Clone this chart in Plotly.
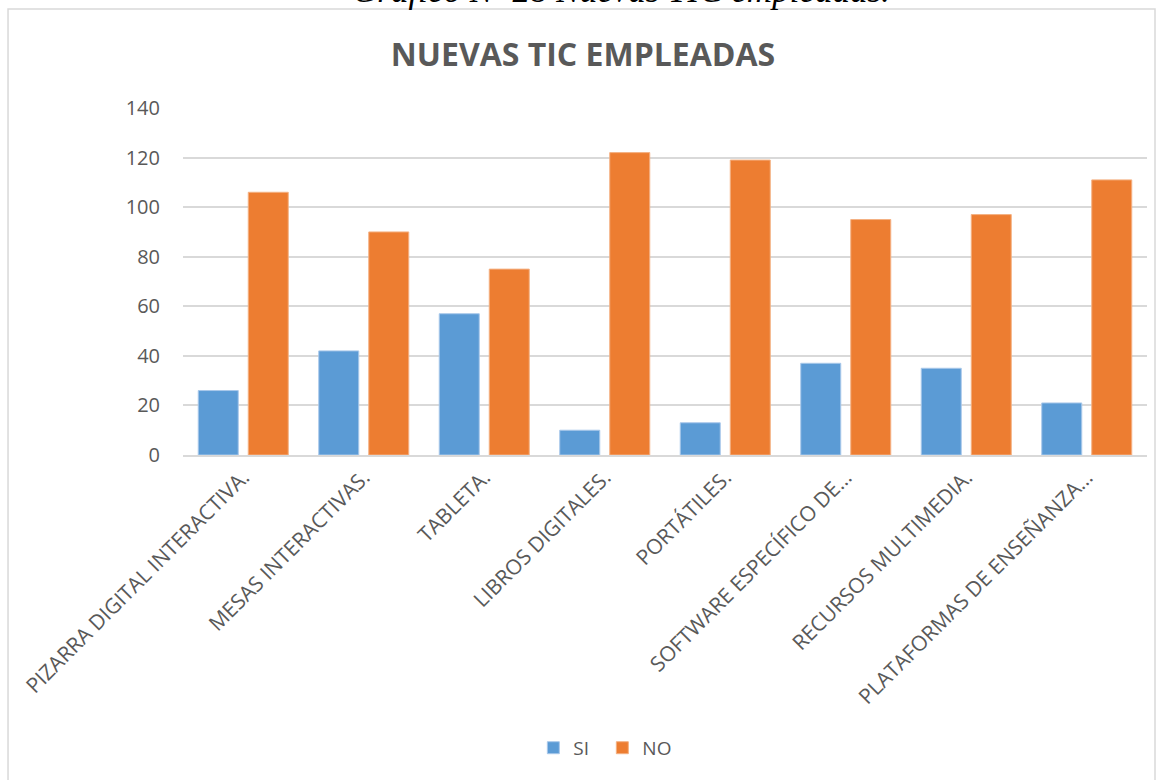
import plotly.graph_objects as go

# Datos del gráfico
categorias = [
    "PIZARRA DIGITAL INTERACTIVA.",
    "MESAS INTERACTIVAS.",
    "TABLETA.",
    "LIBROS DIGITALES.",
    "PORTÁTILES.",
    "SOFTWARE ESPECÍFICO DE…",
    "RECURSOS MULTIMEDIA.",
    "PLATAFORMAS DE ENSEÑANZA…",
]
valores_si = [26, 42, 57, 10, 13, 37, 35, 21]
valores_no = [106, 90, 75, 122, 119, 95, 97, 111]
y_ticks = [0, 20, 40, 60, 80, 100, 120, 140]

GRIS = "#595959"
FUENTE = "Open Sans, Calibri, sans-serif"

fig = go.Figure()
fig.add_trace(go.Bar(x=categorias, y=valores_si, name="SI",
                     marker=dict(color="#5b9bd5", line=dict(color="#a9c8ea", width=1))))
fig.add_trace(go.Bar(x=categorias, y=valores_no, name="NO",
                     marker=dict(color="#ed7d31", line=dict(color="#f4b183", width=1))))

fig.update_layout(
    width=1166,
    height=780,
    margin=dict(l=183, r=19, t=108, b=325),
    paper_bgcolor="white",
    plot_bgcolor="white",
    barmode="group",
    bargap=0.17,
    bargroupgap=0.2,
    font=dict(family=FUENTE, color=GRIS, size=18),
    title=dict(text="<b>NUEVAS TIC EMPLEADAS</b>", x=0.5, xanchor="center",
               y=0.93, yanchor="middle", font=dict(size=32, color=GRIS)),
    legend=dict(orientation="h", x=0.435, xanchor="center", y=-0.844, yanchor="middle",
                font=dict(size=19, color=GRIS), itemwidth=30, entrywidth=24,
                entrywidthmode="pixels"),
    showlegend=True,
)

fig.update_xaxes(tickangle=-45, showgrid=False, showline=True, linecolor="#d9d9d9",
                 linewidth=1.5, ticks="", tickfont=dict(size=21, color=GRIS))
fig.update_yaxes(range=[0, 140], tickvals=y_ticks, showgrid=True, gridcolor="#d9d9d9",
                 gridwidth=1.5, zeroline=False, showline=False, ticks="",
                 ticklabelstandoff=22, tickfont=dict(size=20, color=GRIS))

# marco del gráfico
fig.add_shape(type="rect", xref="paper", yref="paper",
              x0=-0.1815, x1=1.0083, y0=-0.97, y1=1.285,
              line=dict(color="#d9d9d9", width=1.5), layer="below")

# pie de figura, cortado arriba como en el original
fig.add_annotation(text="<i>Gráfico Nº 28 Nuevas TIC empleadas.</i>", xref="paper", yref="paper",
                   x=0.454, y=1.2767, xanchor="center", yanchor="bottom", showarrow=False,
                   font=dict(family="Liberation Serif, Times New Roman, serif", size=35, color="black"))

fig.write_html("out.html", config={"displayModeBar": False},
               post_script="document.body.style.margin='0';")
